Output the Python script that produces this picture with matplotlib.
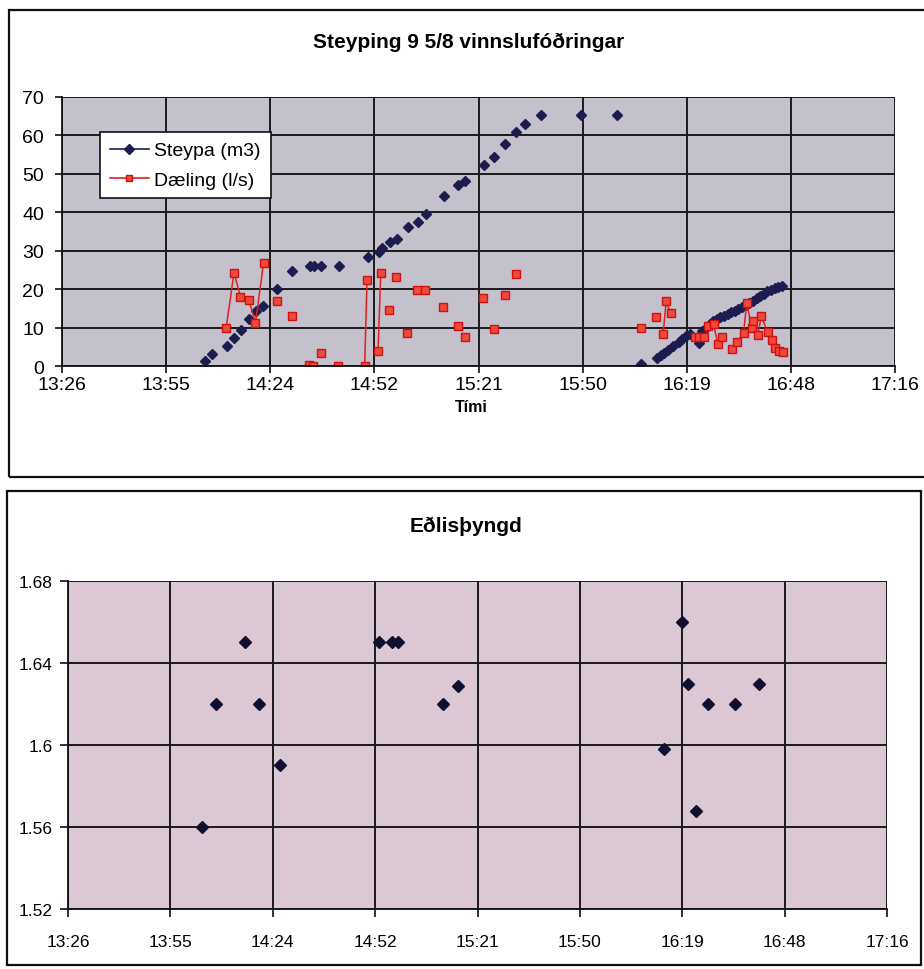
import numpy as np
import matplotlib
matplotlib.use("Agg")
import matplotlib.pyplot as plt
from matplotlib.lines import Line2D
from matplotlib.patches import Rectangle
from matplotlib.ticker import FixedLocator, FuncFormatter

plt.rcParams['font.family'] = ['Liberation Sans', 'DejaVu Sans']

### Data ###
# Steypa (m3) - concrete volume
steypa_time = ["14:06", "14:08", "14:12", "14:14", "14:16", "14:18", "14:20", "14:22",
               "14:26", "14:30", "14:35", "14:36", "14:38", "14:43", "14:51", "14:54",
               "14:55", "14:57", "14:59", "15:02", "15:05", "15:07", "15:12", "15:16",
               "15:18", "15:23", "15:26", "15:29", "15:32", "15:34:30", "15:39", "15:50",
               "16:00",
               "16:06:40", "16:11", "16:12", "16:13", "16:14", "16:15:30", "16:17", "16:18",
               "16:19", "16:20", "16:22:30", "16:23:30", "16:24:30", "16:25:30", "16:26:30",
               "16:27:30", "16:28:30", "16:29:30", "16:30:30", "16:31:30", "16:32:30",
               "16:33:30", "16:34:30", "16:35:30", "16:36:30", "16:37:30", "16:38:30",
               "16:39:30", "16:40:30", "16:41:30", "16:42:30", "16:43:30", "16:44:30",
               "16:45:30"]
steypa_m3 = [1.4, 3.2, 5.3, 7.3, 9.4, 12.2, 14.2, 15.7,
             20.0, 24.7, 25.9, 25.9, 26.1, 26.1, 28.4, 29.6,
             30.8, 32.2, 33.0, 36.1, 37.5, 39.6, 44.2, 47.2,
             48.2, 52.2, 54.5, 57.7, 60.9, 62.9, 65.4, 65.4,
             65.4,
             0.6, 2.0, 2.8, 3.5, 4.2, 5.2, 6.2, 7.0,
             7.8, 8.4, 6.0, 9.2, 9.8, 10.8, 11.6,
             12.2, 12.7, 13.1, 13.5, 14.0, 14.4,
             14.9, 15.4, 15.9, 16.4, 17.0, 17.6,
             18.2, 18.8, 19.4, 19.9, 20.3, 20.6,
             20.8]

# Dæling (l/s) - pump rate, None = break in the line
daeling_time = ["14:11:47", "14:14:00", "14:15:46", "14:18:04", "14:19:55", "14:22:08", None,
                "14:25:54", None, "14:30:04", None, "14:34:41", None, "14:35:48", None,
                "14:38:06", None, "14:42:48", None, "14:50:07", "14:50:46", None,
                "14:53:49", "14:54:34", None, "14:56:52", None, "14:58:43", None,
                "15:01:56", None, "15:04:42", "15:06:50", None, "15:11:50", None,
                "15:15:48", None, "15:17:51", None, "15:22:43", None, "15:25:58", None,
                "15:28:55", None, "15:31:51", None,
                "16:06:40", None, "16:10:44", None, "16:12:40", "16:13:30", "16:14:46", None,
                "16:21:32", "16:22:43", "16:24:06", "16:25:12", "16:26:36", "16:27:48",
                "16:28:54", None,
                "16:31:40", "16:33:03", "16:34:54", "16:35:48", "16:37:12", "16:37:30",
                "16:38:54", "16:39:48", "16:41:36", "16:42:42", "16:43:42", "16:44:36",
                "16:45:42"]
daeling_ls = [9.8, 24.3, 17.9, 17.2, 11.2, 26.7, None,
              17.0, None, 13.1, None, 0.3, None, 0.0, None,
              3.4, None, 0.0, None, 0.0, 22.4, None,
              3.9, 24.2, None, 14.7, None, 23.1, None,
              8.6, None, 19.8, 19.8, None, 15.3, None,
              10.4, None, 7.6, None, 17.7, None, 9.5, None,
              18.6, None, 24.0, None,
              9.8, None, 12.8, None, 8.3, 16.8, 13.8, None,
              7.5, 7.5, 7.5, 10.3, 10.9, 5.8,
              7.5, None,
              4.5, 6.2, 8.5, 16.5, 9.8, 11.7,
              8.1, 13.0, 8.8, 6.8, 4.8, 3.9,
              3.7]

# Eðlisþyngd - density
edlis_time = ["14:04", "14:08", "14:16:20", "14:20", "14:26", "14:54", "14:57:40", "14:59:20",
              "15:12", "15:16", "16:14", "16:19:10", "16:20:50", "16:23", "16:26:30", "16:34",
              "16:40:40"]
edlis_val = [1.56, 1.62, 1.65, 1.62, 1.59, 1.65, 1.65, 1.65,
             1.62, 1.629, 1.598, 1.66, 1.63, 1.568, 1.62, 1.62,
             1.63]

x_ticks = np.arange(0.56, 0.7201, 0.02)    # Excel day fractions, 13:26 .. 17:16


### Helpers ###
def day(t):
    if t is None:
        return np.nan
    p = [int(v) for v in t.split(":")]
    s = p[2] if len(p) > 2 else 0
    return (p[0] * 3600 + p[1] * 60 + s) / 86400.0


def hhmm(x, pos):
    m = int(np.floor(x * 1440 + 1e-6))
    return "%d:%02d" % (m // 60, m % 60)


def val(v):
    return np.nan if v is None else v


W, H = 924, 970
fig = plt.figure(figsize=(W / 100, H / 100), dpi=100)
fig.patch.set_facecolor("white")

navy = "#1c1c4e"
red = "#e0201c"
grid_c = "#1a1a1a"

# chart frames
fig.patches.append(Rectangle((9 / W, 1 - 478 / H), 930 / W, 467 / H, transform=fig.transFigure,
                             fill=False, ec="#111111", lw=1.6))
fig.patches.append(Rectangle((7 / W, 1 - 966 / H), 914 / W, 474 / H, transform=fig.transFigure,
                             fill=False, ec="#111111", lw=1.6))

### Top chart ###
ax1 = fig.add_axes([62 / W, 1 - 367 / H, 833 / W, 269 / H])
ax1.set_facecolor("#c4c1cd")
ax1.set_xlim(0.56, 0.72)
ax1.set_ylim(0, 70)
ax1.xaxis.set_major_locator(FixedLocator(x_ticks))
ax1.xaxis.set_major_formatter(FuncFormatter(hhmm))
ax1.set_yticks(np.arange(0, 71, 10))
ax1.grid(True, color=grid_c, lw=1.4)
ax1.set_axisbelow(True)
for s in ["top", "right"]:
    ax1.spines[s].set_visible(False)
for s in ["left", "bottom"]:
    ax1.spines[s].set_color("#111111")
    ax1.spines[s].set_linewidth(1.3)
ax1.tick_params(axis="both", direction="out", length=5, width=1.2, labelsize=14, color="#111111")
ax1.tick_params(axis="y", pad=8)
ax1.tick_params(axis="x", pad=2)

st_x = [day(t) for t in steypa_time]
ax1.plot(st_x, steypa_m3, ls="none", marker="D", ms=4.8, color=navy, mec=navy)

da_x = [day(t) for t in daeling_time]
da_y = [val(v) for v in daeling_ls]
ax1.plot(da_x, da_y, color=red, lw=1.1, marker="s", ms=5.4, mfc="#ee4a3a", mec="#d01010", mew=1)

handles = [Line2D([], [], color=navy, lw=1.2, marker="D", ms=5, mfc=navy, mec=navy),
           Line2D([], [], color=red, lw=1.2, marker="s", ms=5, mfc="#ee4a3a", mec="#d01010")]
leg = ax1.legend(handles, ["Steypa (m3)", "Dæling (l/s)"], loc="upper left",
                 bbox_to_anchor=(38 / 833, (367 - 133) / 269), borderaxespad=0,
                 fontsize=14, frameon=True, fancybox=False, framealpha=1,
                 edgecolor="#111111", handlelength=2.0, handletextpad=0.3,
                 borderpad=0.5, labelspacing=0.6)
leg.get_frame().set_linewidth(1.2)

fig.text(469 / W, 1 - 42 / H, "Steyping 9 5/8 vinnslufóðringar", ha="center", va="center",
         fontsize=15, fontweight="bold")
fig.text(471 / W, 1 - 408 / H, "Tími", ha="center", va="center", fontsize=11.5,
         fontweight="bold")

### Bottom chart ###
ax2 = fig.add_axes([68 / W, 1 - 910 / H, 819 / W, 328 / H])
ax2.set_facecolor("#dcc7d4")
ax2.set_xlim(0.56, 0.72)
ax2.set_ylim(1.52, 1.68)
ax2.xaxis.set_major_locator(FixedLocator(x_ticks))
ax2.xaxis.set_major_formatter(FuncFormatter(hhmm))
ax2.set_yticks([1.52, 1.56, 1.60, 1.64, 1.68])
ax2.set_yticklabels(["1.52", "1.56", "1.6", "1.64", "1.68"])
ax2.grid(True, color=grid_c, lw=1.4)
ax2.set_axisbelow(True)
for s in ["top", "right"]:
    ax2.spines[s].set_visible(False)
for s in ["left", "bottom"]:
    ax2.spines[s].set_color("#111111")
    ax2.spines[s].set_linewidth(1.3)
ax2.tick_params(axis="both", direction="out", length=6, width=1.2, labelsize=12.5, color="#111111")
ax2.tick_params(axis="x", pad=12)
ax2.tick_params(axis="y", pad=5)

ax2.plot([day(t) for t in edlis_time], edlis_val, ls="none", marker="D", ms=6.4,
         color="#10102e", mec="#10102e")

fig.text(466 / W, 1 - 526 / H, "Eðlisþyngd", ha="center", va="center", fontsize=15,
         fontweight="bold")

fig.savefig("out.png", dpi=100)
